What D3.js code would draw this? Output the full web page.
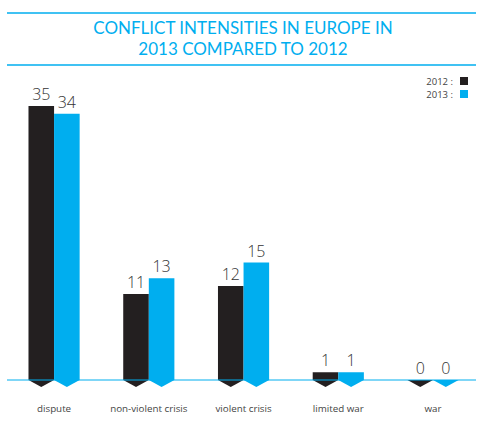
<!DOCTYPE html>
<html>
<head>
<meta charset="utf-8">
<script src="https://cdn.jsdelivr.net/npm/d3@7"></script>
<style>
  body { margin: 0; background: #fff; }
  svg { font-family: "Open Sans", sans-serif; }
</style>
</head>
<body>
<svg class="chart" width="477" height="430"></svg>
<script>
var categories = ["dispute", "non-violent crisis", "violent crisis", "limited war", "war"];
var years = ["2012", "2013"];
var values2012 = [35, 11, 12, 1, 0];
var values2013 = [34, 13, 15, 1, 0];
var titleLines = ["CONFLICT INTENSITIES IN EUROPE IN", "2013 COMPARED TO 2012"];

var blue = "#00aeef";
var dark = "#231f20";
var colors = { "2012": dark, "2013": blue };
var baseY = 380;

var svg = d3.select(".chart");

var data = categories.map(function (c, i) {
    return { cat: c, vals: [{ year: "2012", v: values2012[i] }, { year: "2013", v: values2013[i] }] };
});

var x = d3.scaleBand()
    .domain(categories)
    .range([6.7, 480.4])
    .paddingInner(0.46)
    .paddingOuter(0.23);
var xSub = d3.scaleBand()
    .domain(years)
    .range([0, x.bandwidth()]);
var y = d3.scaleLinear()
    .domain([0, 35])
    .range([baseY, 106]);

// title + rules
svg.append("line").attr("x1", 7).attr("x2", 476).attr("y1", 13).attr("y2", 13)
    .attr("stroke", blue).attr("stroke-width", 1.5);
svg.append("line").attr("x1", 7).attr("x2", 476).attr("y1", 65).attr("y2", 65)
    .attr("stroke", blue).attr("stroke-width", 1.5);
svg.selectAll(".title")
    .data(titleLines)
    .enter().append("text")
    .attr("class", "title")
    .attr("x", 243)
    .attr("y", function (d, i) { return 34 + i * 21; })
    .attr("text-anchor", "middle")
    .attr("fill", blue)
    .attr("font-family", "Lato, sans-serif")
    .attr("font-size", 17)
    .text(function (d) { return d; });

// legend
var legend = svg.selectAll(".legend")
    .data(years)
    .enter().append("g")
    .attr("class", "legend")
    .attr("transform", function (d, i) { return "translate(0," + (81 + i * 13) + ")"; });
legend.append("text")
    .attr("x", 453).attr("y", 4)
    .attr("text-anchor", "end")
    .attr("font-size", 9.5)
    .attr("fill", "#444")
    .text(function (d) { return d + " :"; });
legend.append("rect")
    .attr("x", 460).attr("y", -4)
    .attr("width", 8).attr("height", 8)
    .attr("fill", function (d) { return colors[d]; });

// bars
var groups = svg.selectAll(".group")
    .data(data)
    .enter().append("g")
    .attr("class", "group")
    .attr("transform", function (d) { return "translate(" + x(d.cat) + ",0)"; });

var bw = xSub.bandwidth();
groups.selectAll("path.bar")
    .data(function (d) { return d.vals; })
    .enter().append("path")
    .attr("class", "bar")
    .attr("fill", function (d) { return colors[d.year]; })
    .attr("d", function (d) {
        var x0 = xSub(d.year), top = y(d.v);
        return "M" + x0 + "," + top + "H" + (x0 + bw) + "V" + baseY +
            "L" + (x0 + bw / 2) + "," + (baseY + 7) + "L" + x0 + "," + baseY + "Z";
    });

groups.selectAll("text.val")
    .data(function (d) { return d.vals; })
    .enter().append("text")
    .attr("class", "val")
    .attr("x", function (d) { return xSub(d.year) + bw / 2; })
    .attr("y", function (d) { return y(d.v) - 6; })
    .attr("text-anchor", "middle")
    .attr("font-size", 16)
    .attr("font-weight", 300)
    .attr("fill", "#333")
    .text(function (d) { return d.v; });

// baseline
svg.append("line").attr("x1", 7).attr("x2", 476).attr("y1", baseY).attr("y2", baseY)
    .attr("stroke", blue).attr("stroke-width", 1);

groups.append("text")
    .attr("x", x.bandwidth() / 2)
    .attr("y", 412)
    .attr("text-anchor", "middle")
    .attr("font-size", 9.8)
    .attr("fill", "#444")
    .text(function (d) { return d.cat; });
</script>
</body>
</html>
